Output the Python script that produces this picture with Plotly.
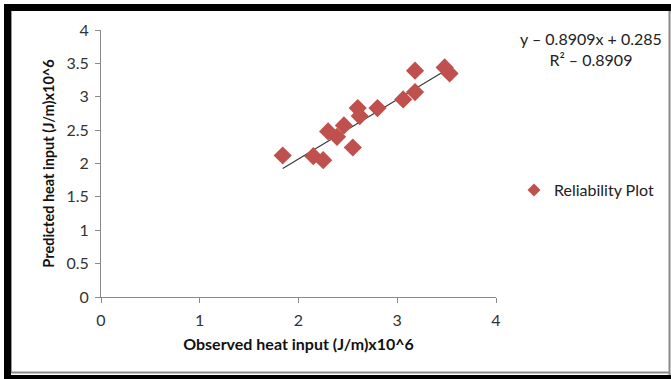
import plotly.graph_objects as go

observed = [1.84, 2.15, 2.25, 2.30, 2.39, 2.46, 2.55, 2.60, 2.62, 2.80, 3.06, 3.18, 3.18, 3.48, 3.53]
predicted = [2.12, 2.11, 2.05, 2.48, 2.40, 2.57, 2.24, 2.83, 2.71, 2.83, 2.96, 3.07, 3.39, 3.44, 3.35]
slope = 0.8909
intercept = 0.285
x_ticks = [0, 1, 2, 3, 4]
y_ticks = [0, 0.5, 1, 1.5, 2, 2.5, 3, 3.5, 4]
y_tick_labels = ["0", "0.5", "1", "1.5", "2", "2.5", "3", "3.5", "4"]
series_name = "Reliability Plot"
equation_text = "y – 0.8909x + 0.285<br>R² – 0.8909"
x_title = "Observed heat input (J/m)x10^6"
y_title = "Predicted heat input (J/m)x10^6"

W, H = 671, 379
L, R, T, B = 101, 496, 30, 297


def px(x):
    return (x - L) / (R - L)


def py(y):
    return (B - y) / (B - T)


fig = go.Figure()
x_line = [min(observed), max(observed)]
fig.add_trace(go.Scatter(
    x=x_line, y=[slope * v + intercept for v in x_line], mode="lines",
    line=dict(color="#3a3a3a", width=1.2), showlegend=False, hoverinfo="skip"))
fig.add_trace(go.Scatter(
    x=observed, y=predicted, mode="markers", name=series_name, showlegend=False,
    marker=dict(symbol="diamond", size=14, color="#C0504D")))
# legend entry (smaller symbol, as in the reference legend)
fig.add_trace(go.Scatter(
    x=[None], y=[None], mode="markers", name=series_name, showlegend=True,
    marker=dict(symbol="diamond", size=10, color="#C0504D")))

font_family = "Lato, Carlito, sans-serif"
axis_font = dict(family=font_family, size=16, color="#333333")
fig.update_layout(
    width=W, height=H,
    margin=dict(l=L, r=W - R, t=T, b=H - B),
    paper_bgcolor="white", plot_bgcolor="white",
    font=dict(family=font_family, size=16, color="#222222"),
    legend=dict(x=px(514), y=py(190), xanchor="left", yanchor="middle",
                font=dict(size=16, color="#222222"), bgcolor="rgba(0,0,0,0)",
                itemwidth=30),
    showlegend=True,
)
fig.update_xaxes(range=[0, 4], tickvals=x_ticks, showgrid=False, zeroline=False,
                 showline=True, linecolor="#8a8a8a", linewidth=1,
                 ticks="outside", ticklen=5, tickcolor="#8a8a8a",
                 tickfont=axis_font, ticklabelstandoff=4,
                 title=dict(text="<b>" + x_title + "</b>", font=dict(size=16, color="#111111"), standoff=10))
fig.update_yaxes(range=[0, 4], tickvals=y_ticks, ticktext=y_tick_labels, showgrid=False, zeroline=False,
                 showline=True, linecolor="#8a8a8a", linewidth=1,
                 ticks="outside", ticklen=5, tickcolor="#8a8a8a",
                 tickfont=axis_font, ticklabelstandoff=3,
                 title=dict(text="<b>" + y_title + "</b>", font=dict(size=14.5, color="#111111"), standoff=8))

fig.add_annotation(x=px(591), y=py(49), xref="paper", yref="paper", text=equation_text,
                   xanchor="center", yanchor="middle",
                   showarrow=False, align="center", font=dict(size=16, color="#222222"))

# frame
shapes = [
    dict(type="rect", x0=px(4), x1=px(11), y0=py(4), y1=py(379), fillcolor="black", line_width=0),
    dict(type="rect", x0=px(4), x1=px(671), y0=py(4), y1=py(11), fillcolor="black", line_width=0),
    dict(type="rect", x0=px(4), x1=px(671), y0=py(375), y1=py(379), fillcolor="black", line_width=0),
    dict(type="line", x0=px(11.5), x1=px(11.5), y0=py(11), y1=py(373), line=dict(color="#9a9a9a", width=1)),
    dict(type="line", x0=px(11), x1=px(670), y0=py(372.5), y1=py(372.5), line=dict(color="#8a8a8a", width=2)),
    dict(type="line", x0=px(669.5), x1=px(669.5), y0=py(11), y1=py(375), line=dict(color="#8a8a8a", width=2)),
]
for s in shapes:
    s["xref"] = "paper"
    s["yref"] = "paper"
    s["layer"] = "above"
fig.update_layout(shapes=shapes)

fig.write_html("out.html")
